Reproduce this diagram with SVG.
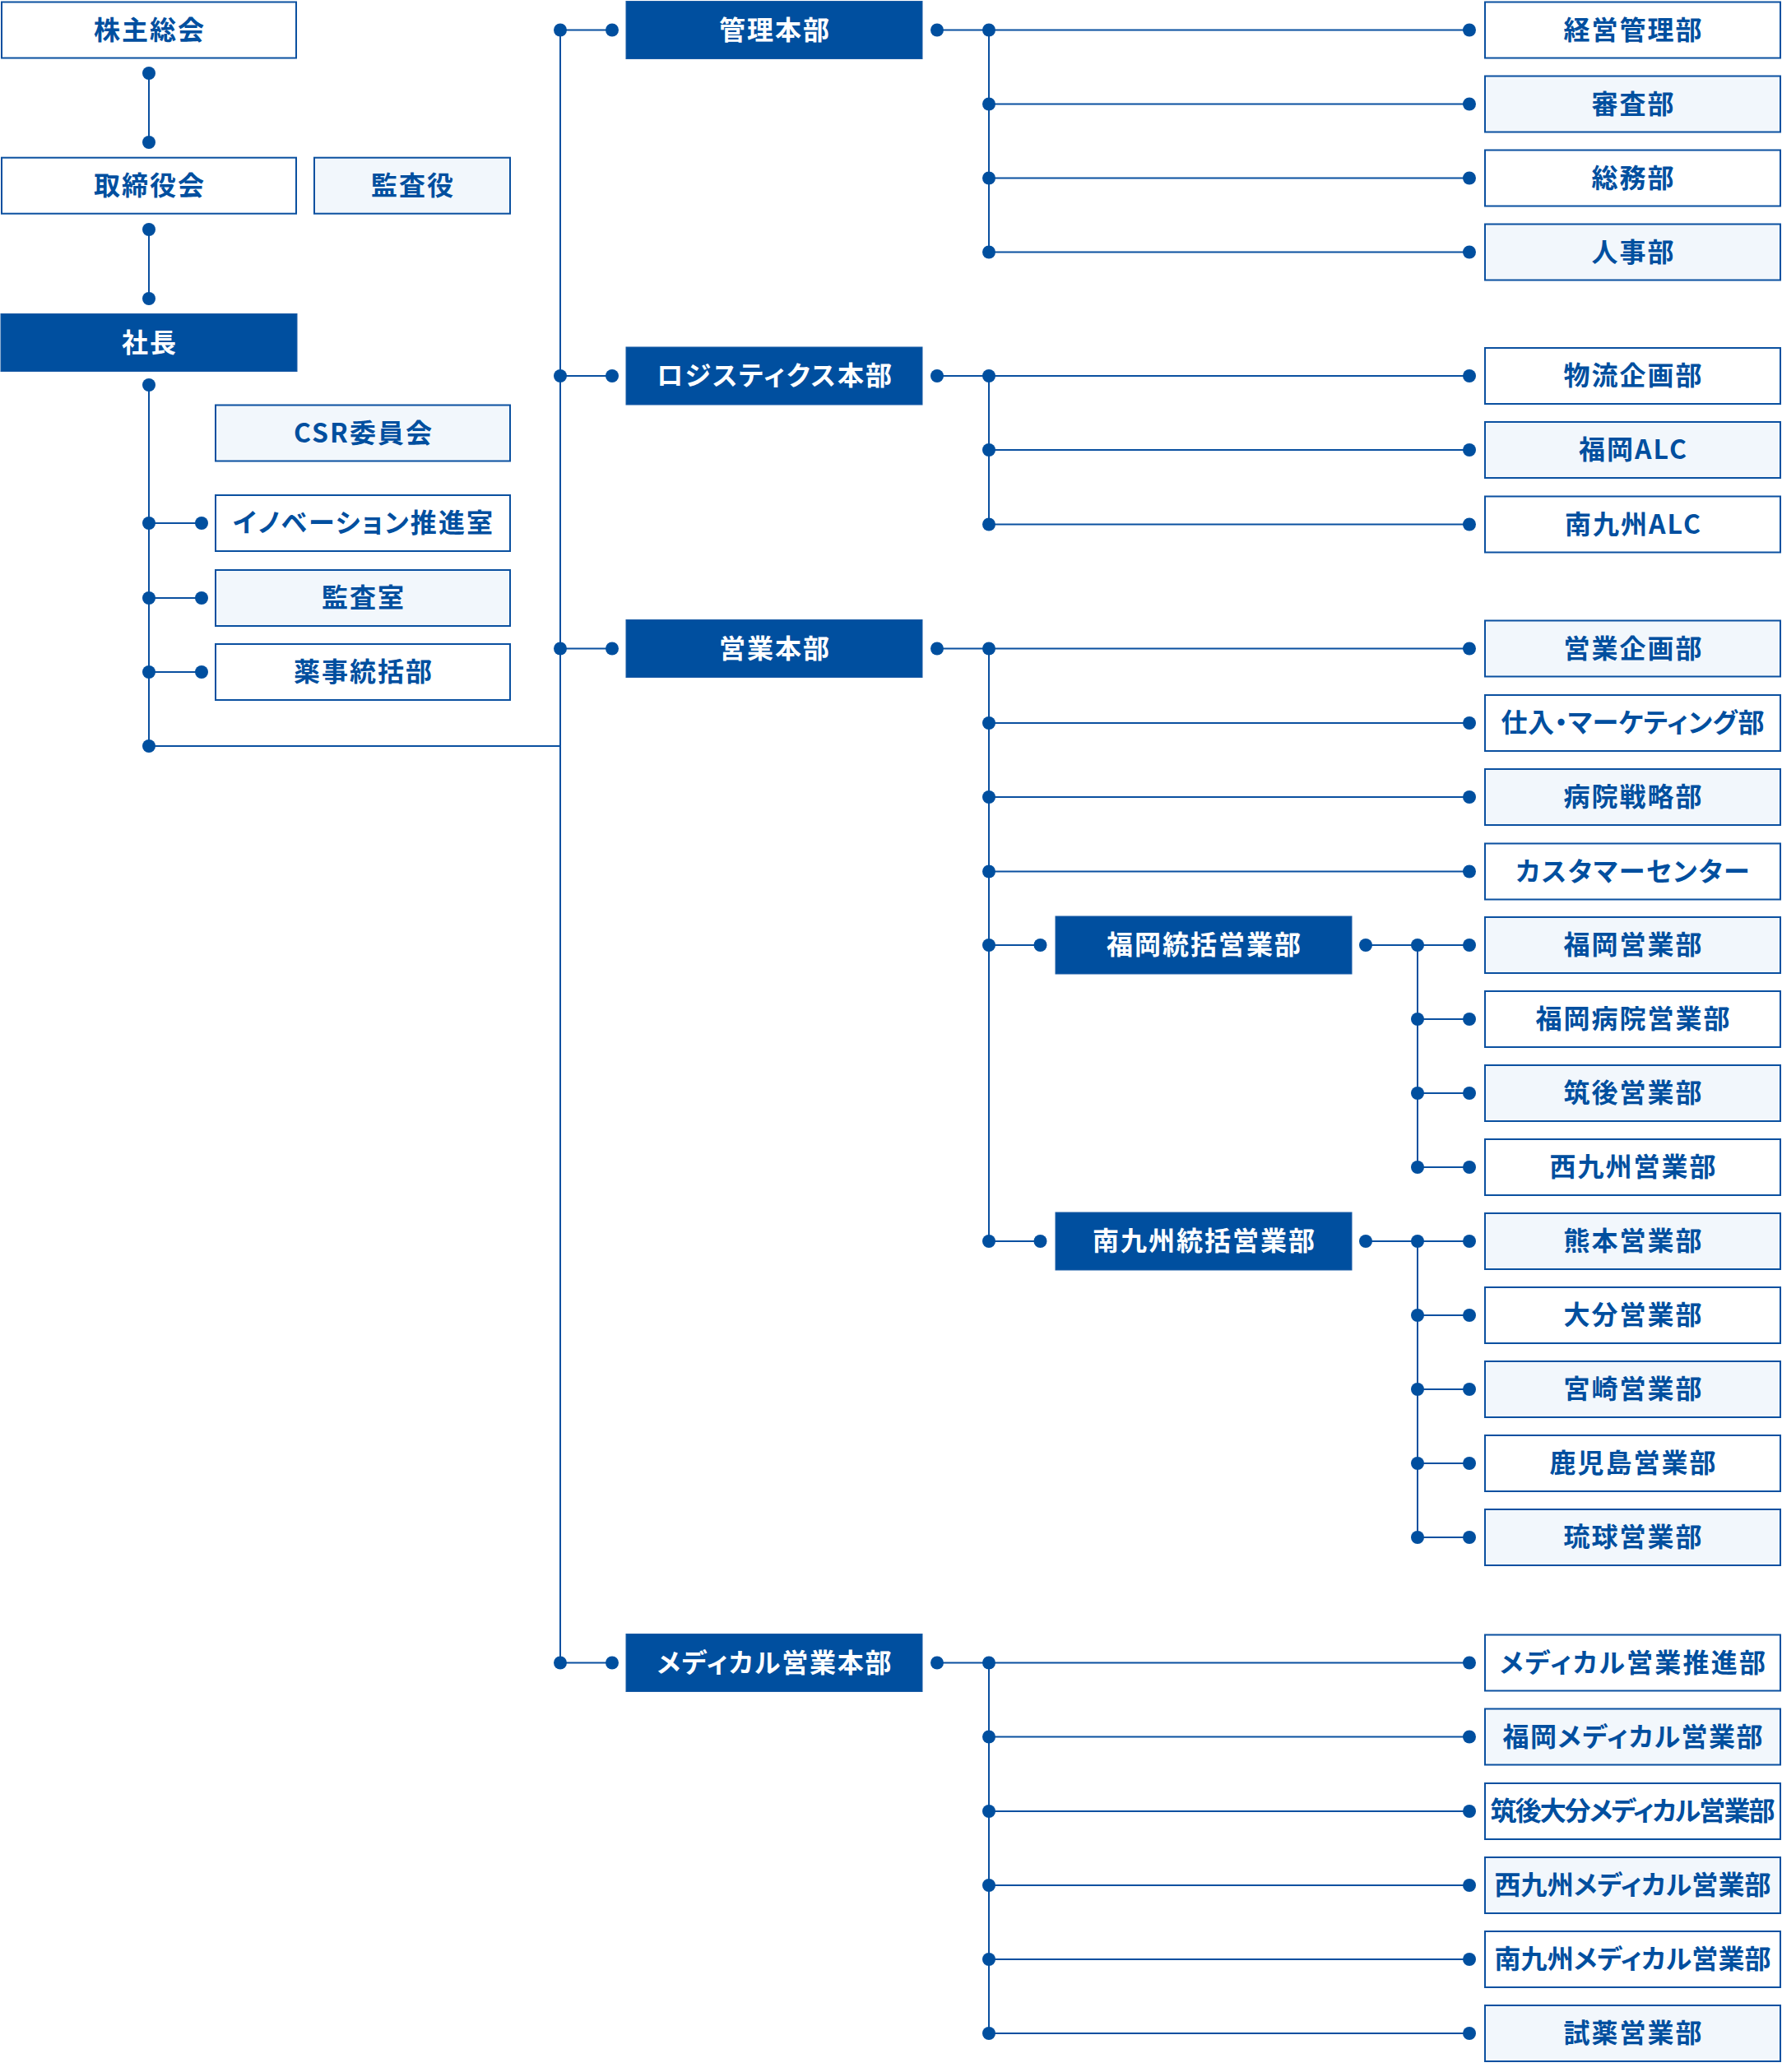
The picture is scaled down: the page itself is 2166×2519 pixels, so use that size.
<svg xmlns="http://www.w3.org/2000/svg" width="2166" height="2519" viewBox="0 0 2166 2519">
<style>
.b{stroke:#0a50a0;stroke-width:2}
.w{fill:#ffffff}
.l{fill:#f2f7fc}
.f{fill:#004f9f;stroke:#1a5ca6;stroke-width:1}
.t{font-family:"Noto Sans CJK JP","Noto Sans CJK SC",sans-serif;font-weight:700;font-size:32px;fill:#004f9f;text-anchor:middle;letter-spacing:2px}
.tk{letter-spacing:0;font-feature-settings:"palt"}
.tw{fill:#ffffff}
.c line{stroke:#0a50a0;stroke-width:2}
.c circle{fill:#004f9f}
</style>
<rect width="2166" height="2519" fill="#ffffff"/>
<g id="connectors" class="c">
<line x1="181" y1="89" x2="181" y2="173"/>
<line x1="181" y1="279" x2="181" y2="363"/>
<line x1="181" y1="468" x2="181" y2="907"/>
<line x1="181" y1="636" x2="245" y2="636"/>
<line x1="181" y1="727" x2="245" y2="727"/>
<line x1="181" y1="817" x2="245" y2="817"/>
<line x1="181" y1="907" x2="681" y2="907"/>
<line x1="681" y1="36.5" x2="681" y2="2021.5"/>
<line x1="681" y1="36.5" x2="744" y2="36.5"/>
<line x1="681" y1="457" x2="744" y2="457"/>
<line x1="681" y1="788.5" x2="744" y2="788.5"/>
<line x1="681" y1="2021.5" x2="744" y2="2021.5"/>
<line x1="1139" y1="36.5" x2="1202" y2="36.5"/>
<line x1="1202" y1="36.5" x2="1202" y2="306.5"/>
<line x1="1202" y1="36.5" x2="1786" y2="36.5"/>
<line x1="1202" y1="126.5" x2="1786" y2="126.5"/>
<line x1="1202" y1="216.5" x2="1786" y2="216.5"/>
<line x1="1202" y1="306.5" x2="1786" y2="306.5"/>
<line x1="1139" y1="457" x2="1202" y2="457"/>
<line x1="1202" y1="457" x2="1202" y2="637.5"/>
<line x1="1202" y1="457" x2="1786" y2="457"/>
<line x1="1202" y1="547" x2="1786" y2="547"/>
<line x1="1202" y1="637.5" x2="1786" y2="637.5"/>
<line x1="1139" y1="788.5" x2="1202" y2="788.5"/>
<line x1="1202" y1="788.5" x2="1202" y2="1509"/>
<line x1="1202" y1="788.5" x2="1786" y2="788.5"/>
<line x1="1202" y1="879" x2="1786" y2="879"/>
<line x1="1202" y1="969" x2="1786" y2="969"/>
<line x1="1202" y1="1059.5" x2="1786" y2="1059.5"/>
<line x1="1202" y1="1149" x2="1264.5" y2="1149"/>
<line x1="1202" y1="1509" x2="1264.5" y2="1509"/>
<line x1="1660" y1="1149" x2="1723" y2="1149"/>
<line x1="1723" y1="1149" x2="1723" y2="1419"/>
<line x1="1723" y1="1149" x2="1786" y2="1149"/>
<line x1="1723" y1="1239" x2="1786" y2="1239"/>
<line x1="1723" y1="1329" x2="1786" y2="1329"/>
<line x1="1723" y1="1419" x2="1786" y2="1419"/>
<line x1="1660" y1="1509" x2="1723" y2="1509"/>
<line x1="1723" y1="1509" x2="1723" y2="1869"/>
<line x1="1723" y1="1509" x2="1786" y2="1509"/>
<line x1="1723" y1="1599" x2="1786" y2="1599"/>
<line x1="1723" y1="1689" x2="1786" y2="1689"/>
<line x1="1723" y1="1779" x2="1786" y2="1779"/>
<line x1="1723" y1="1869" x2="1786" y2="1869"/>
<line x1="1139" y1="2021.5" x2="1202" y2="2021.5"/>
<line x1="1202" y1="2021.5" x2="1202" y2="2472"/>
<line x1="1202" y1="2021.5" x2="1786" y2="2021.5"/>
<line x1="1202" y1="2111.5" x2="1786" y2="2111.5"/>
<line x1="1202" y1="2202" x2="1786" y2="2202"/>
<line x1="1202" y1="2292" x2="1786" y2="2292"/>
<line x1="1202" y1="2382" x2="1786" y2="2382"/>
<line x1="1202" y1="2472" x2="1786" y2="2472"/>
<circle cx="181" cy="89" r="8"/><circle cx="181" cy="173" r="8"/>
<circle cx="181" cy="279" r="8"/><circle cx="181" cy="363" r="8"/>
<circle cx="181" cy="468" r="8"/>
<circle cx="181" cy="636" r="8"/><circle cx="245" cy="636" r="8"/>
<circle cx="181" cy="727" r="8"/><circle cx="245" cy="727" r="8"/>
<circle cx="181" cy="817" r="8"/><circle cx="245" cy="817" r="8"/>
<circle cx="181" cy="907" r="8"/>
<circle cx="681" cy="36.5" r="8"/><circle cx="744" cy="36.5" r="8"/>
<circle cx="681" cy="457" r="8"/><circle cx="744" cy="457" r="8"/>
<circle cx="681" cy="788.5" r="8"/><circle cx="744" cy="788.5" r="8"/>
<circle cx="681" cy="2021.5" r="8"/><circle cx="744" cy="2021.5" r="8"/>
<circle cx="1139" cy="36.5" r="8"/>
<circle cx="1202" cy="36.5" r="8"/><circle cx="1786" cy="36.5" r="8"/>
<circle cx="1202" cy="126.5" r="8"/><circle cx="1786" cy="126.5" r="8"/>
<circle cx="1202" cy="216.5" r="8"/><circle cx="1786" cy="216.5" r="8"/>
<circle cx="1202" cy="306.5" r="8"/><circle cx="1786" cy="306.5" r="8"/>
<circle cx="1139" cy="457" r="8"/>
<circle cx="1202" cy="457" r="8"/><circle cx="1786" cy="457" r="8"/>
<circle cx="1202" cy="547" r="8"/><circle cx="1786" cy="547" r="8"/>
<circle cx="1202" cy="637.5" r="8"/><circle cx="1786" cy="637.5" r="8"/>
<circle cx="1139" cy="788.5" r="8"/>
<circle cx="1202" cy="788.5" r="8"/><circle cx="1786" cy="788.5" r="8"/>
<circle cx="1202" cy="879" r="8"/><circle cx="1786" cy="879" r="8"/>
<circle cx="1202" cy="969" r="8"/><circle cx="1786" cy="969" r="8"/>
<circle cx="1202" cy="1059.5" r="8"/><circle cx="1786" cy="1059.5" r="8"/>
<circle cx="1202" cy="1149" r="8"/><circle cx="1264.5" cy="1149" r="8"/>
<circle cx="1202" cy="1509" r="8"/><circle cx="1264.5" cy="1509" r="8"/>
<circle cx="1660" cy="1149" r="8"/>
<circle cx="1723" cy="1149" r="8"/><circle cx="1786" cy="1149" r="8"/>
<circle cx="1723" cy="1239" r="8"/><circle cx="1786" cy="1239" r="8"/>
<circle cx="1723" cy="1329" r="8"/><circle cx="1786" cy="1329" r="8"/>
<circle cx="1723" cy="1419" r="8"/><circle cx="1786" cy="1419" r="8"/>
<circle cx="1660" cy="1509" r="8"/>
<circle cx="1723" cy="1509" r="8"/><circle cx="1786" cy="1509" r="8"/>
<circle cx="1723" cy="1599" r="8"/><circle cx="1786" cy="1599" r="8"/>
<circle cx="1723" cy="1689" r="8"/><circle cx="1786" cy="1689" r="8"/>
<circle cx="1723" cy="1779" r="8"/><circle cx="1786" cy="1779" r="8"/>
<circle cx="1723" cy="1869" r="8"/><circle cx="1786" cy="1869" r="8"/>
<circle cx="1139" cy="2021.5" r="8"/>
<circle cx="1202" cy="2021.5" r="8"/><circle cx="1786" cy="2021.5" r="8"/>
<circle cx="1202" cy="2111.5" r="8"/><circle cx="1786" cy="2111.5" r="8"/>
<circle cx="1202" cy="2202" r="8"/><circle cx="1786" cy="2202" r="8"/>
<circle cx="1202" cy="2292" r="8"/><circle cx="1786" cy="2292" r="8"/>
<circle cx="1202" cy="2382" r="8"/><circle cx="1786" cy="2382" r="8"/>
<circle cx="1202" cy="2472" r="8"/><circle cx="1786" cy="2472" r="8"/>
</g>
<g id="n-kabunushi"><rect class="b w" x="2" y="2.5" width="358" height="68"/><text class="t" x="182" y="47.5">株主総会</text></g>
<g id="n-torishimari"><rect class="b w" x="2" y="191.7" width="358" height="68"/><text class="t" x="182" y="236.7">取締役会</text></g>
<g id="n-kansayaku"><rect class="b l" x="382" y="191.7" width="238" height="68"/><text class="t" x="502" y="236.7">監査役</text></g>
<g id="n-shacho"><rect class="f" x="1" y="381.5" width="360" height="70"/><text class="t tw" x="182" y="427.5">社長</text></g>
<g id="n-csr"><rect class="b l" x="262" y="492.5" width="358" height="68"/><text class="t" x="442" y="537.5">CSR委員会</text></g>
<g id="n-innovation"><rect class="b w" x="262" y="602" width="358" height="68"/><text class="t tk" x="441" y="647" textLength="316" lengthAdjust="spacing">イノベーション推進室</text></g>
<g id="n-kansashitsu"><rect class="b l" x="262" y="693" width="358" height="68"/><text class="t" x="442" y="738">監査室</text></g>
<g id="n-yakuji"><rect class="b w" x="262" y="783" width="358" height="68"/><text class="t" x="442" y="828">薬事統括部</text></g>
<g id="n-kanri"><rect class="f" x="761" y="1.5" width="360" height="70"/><text class="t tw" x="942" y="47.5">管理本部</text></g>
<g id="n-logistics"><rect class="f" x="761" y="422" width="360" height="70"/><text class="t tw tk" x="941" y="468" textLength="286" lengthAdjust="spacing">ロジスティクス本部</text></g>
<g id="n-eigyo"><rect class="f" x="761" y="753.5" width="360" height="70"/><text class="t tw" x="942" y="799.5">営業本部</text></g>
<g id="n-medical"><rect class="f" x="761" y="1986.5" width="360" height="70"/><text class="t tw tk" x="941" y="2032.5" textLength="285" lengthAdjust="spacing">メディカル営業本部</text></g>
<g id="n-fukuoka-tokatsu"><rect class="f" x="1283" y="1114" width="360" height="70"/><text class="t tw" x="1464" y="1160">福岡統括営業部</text></g>
<g id="n-minamikyushu-tokatsu"><rect class="f" x="1283" y="1474" width="360" height="70"/><text class="t tw" x="1464" y="1520">南九州統括営業部</text></g>
<g id="n-keiei"><rect class="b w" x="1805" y="2.5" width="359" height="68"/><text class="t" x="1985.5" y="47.5">経営管理部</text></g>
<g id="n-shinsa"><rect class="b l" x="1805" y="92.5" width="359" height="68"/><text class="t" x="1985.5" y="137.5">審査部</text></g>
<g id="n-somu"><rect class="b w" x="1805" y="182.5" width="359" height="68"/><text class="t" x="1985.5" y="227.5">総務部</text></g>
<g id="n-jinji"><rect class="b l" x="1805" y="272.5" width="359" height="68"/><text class="t" x="1985.5" y="317.5">人事部</text></g>
<g id="n-butsuryu"><rect class="b w" x="1805" y="423" width="359" height="68"/><text class="t" x="1985.5" y="468">物流企画部</text></g>
<g id="n-fukuoka-alc"><rect class="b l" x="1805" y="513" width="359" height="68"/><text class="t" x="1985.5" y="558">福岡ALC</text></g>
<g id="n-minamikyushu-alc"><rect class="b w" x="1805" y="603.5" width="359" height="68"/><text class="t" x="1985.5" y="648.5">南九州ALC</text></g>
<g id="n-eigyo-kikaku"><rect class="b l" x="1805" y="754.5" width="359" height="68"/><text class="t" x="1985.5" y="799.5">営業企画部</text></g>
<g id="n-shiire"><rect class="b w" x="1805" y="845" width="359" height="68"/><text class="t tk" x="1984.5" y="890" textLength="320" lengthAdjust="spacing">仕入・マーケティング部</text></g>
<g id="n-byoin-senryaku"><rect class="b l" x="1805" y="935" width="359" height="68"/><text class="t" x="1985.5" y="980">病院戦略部</text></g>
<g id="n-customer"><rect class="b w" x="1805" y="1025.5" width="359" height="68"/><text class="t tk" x="1984.5" y="1070.5" textLength="284" lengthAdjust="spacing">カスタマーセンター</text></g>
<g id="n-fukuoka-eigyo"><rect class="b l" x="1805" y="1115" width="359" height="68"/><text class="t" x="1985.5" y="1160">福岡営業部</text></g>
<g id="n-fukuoka-byoin"><rect class="b w" x="1805" y="1205" width="359" height="68"/><text class="t" x="1985.5" y="1250">福岡病院営業部</text></g>
<g id="n-chikugo"><rect class="b l" x="1805" y="1295" width="359" height="68"/><text class="t" x="1985.5" y="1340">筑後営業部</text></g>
<g id="n-nishikyushu"><rect class="b w" x="1805" y="1385" width="359" height="68"/><text class="t" x="1985.5" y="1430">西九州営業部</text></g>
<g id="n-kumamoto"><rect class="b l" x="1805" y="1475" width="359" height="68"/><text class="t" x="1985.5" y="1520">熊本営業部</text></g>
<g id="n-oita"><rect class="b w" x="1805" y="1565" width="359" height="68"/><text class="t" x="1985.5" y="1610">大分営業部</text></g>
<g id="n-miyazaki"><rect class="b l" x="1805" y="1655" width="359" height="68"/><text class="t" x="1985.5" y="1700">宮崎営業部</text></g>
<g id="n-kagoshima"><rect class="b w" x="1805" y="1745" width="359" height="68"/><text class="t" x="1985.5" y="1790">鹿児島営業部</text></g>
<g id="n-ryukyu"><rect class="b l" x="1805" y="1835" width="359" height="68"/><text class="t" x="1985.5" y="1880">琉球営業部</text></g>
<g id="n-medical-suishin"><rect class="b w" x="1805" y="1987.5" width="359" height="68"/><text class="t tk" x="1984.5" y="2032.5" textLength="323" lengthAdjust="spacing">メディカル営業推進部</text></g>
<g id="n-fukuoka-medical"><rect class="b l" x="1805" y="2077.5" width="359" height="68"/><text class="t tk" x="1984.5" y="2122.5" textLength="316" lengthAdjust="spacing">福岡メディカル営業部</text></g>
<g id="n-chikugo-oita-medical"><rect class="b w" x="1805" y="2168" width="359" height="68"/><text class="t tk" x="1984.5" y="2213" textLength="346" lengthAdjust="spacing">筑後大分メディカル営業部</text></g>
<g id="n-nishikyushu-medical"><rect class="b l" x="1805" y="2258" width="359" height="68"/><text class="t tk" x="1984.5" y="2303" textLength="336" lengthAdjust="spacing">西九州メディカル営業部</text></g>
<g id="n-minamikyushu-medical"><rect class="b w" x="1805" y="2348" width="359" height="68"/><text class="t tk" x="1984.5" y="2393" textLength="336" lengthAdjust="spacing">南九州メディカル営業部</text></g>
<g id="n-shiyaku"><rect class="b l" x="1805" y="2438" width="359" height="68"/><text class="t" x="1985.5" y="2483">試薬営業部</text></g>
</svg>
